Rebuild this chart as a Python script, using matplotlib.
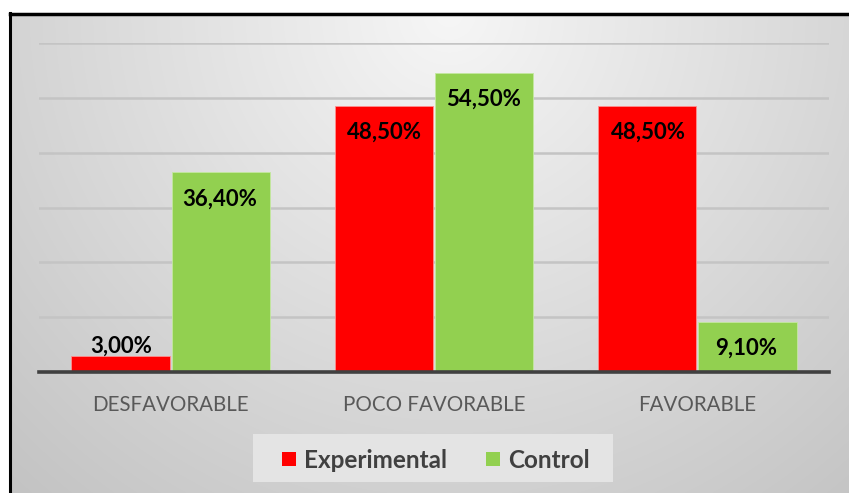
import numpy as np
import matplotlib.pyplot as plt
from matplotlib.patches import Rectangle
from matplotlib.lines import Line2D

categories = ['DESFAVORABLE', 'POCO FAVORABLE', 'FAVORABLE']
series = ['Experimental', 'Control']
experimental = [3.00, 48.50, 48.50]
control = [36.40, 54.50, 9.10]
colors = ['#FF0000', '#92D050']

W, H = 849, 493
fig = plt.figure(figsize=(W / 100, H / 100), dpi=100)
fig.patch.set_facecolor('white')

# gradient background inside the frame
bg = fig.add_axes([9 / W, 0, 1 - 9 / W, 1 - 13 / H], zorder=-10)
yy, xx = np.mgrid[0:480, 0:840]
d = np.sqrt((xx - 440) ** 2 + (yy * 1.0) ** 2)
shade = np.clip(0.965 - 0.17 * d / 550, 0, 1)
bg.imshow(np.dstack([shade] * 3), aspect='auto', extent=[0, 1, 0, 1], origin='upper')
bg.axis('off')

# frame (only left and top are visible in the crop)
fig.add_artist(Line2D([9.5 / W, 9.5 / W], [0, 1 - 13 / H], color='black', lw=2.2, transform=fig.transFigure))
fig.add_artist(Line2D([9.5 / W, 1], [1 - 13.5 / H, 1 - 13.5 / H], color='black', lw=2.5, transform=fig.transFigure))

ax = fig.add_axes([39 / W, 121 / H, 790 / W, 329 / H])
ax.patch.set_alpha(0)
x = np.arange(len(categories))
w = 0.373
ax.bar(x - w / 2 - 0.004, experimental, w, color=colors[0], edgecolor='#ff9090', lw=0.6, zorder=3)
ax.bar(x + w / 2 + 0.004, control, w, color=colors[1], edgecolor='#c4e8a0', lw=0.6, zorder=3)

ax.set_ylim(0, 60)
ax.set_xlim(-0.5, 2.5)
ax.set_yticks(np.arange(10, 61, 10))
ax.yaxis.grid(True, color='#c4c4c4', lw=1.8, zorder=0)
ax.tick_params(axis='y', left=False, labelleft=False)
ax.tick_params(axis='x', bottom=False, pad=13)
for s in ['top', 'right', 'left']:
    ax.spines[s].set_visible(False)
ax.spines['bottom'].set_color('#404040')
ax.spines['bottom'].set_linewidth(2.6)
ax.spines['bottom'].set_zorder(4)
ax.set_xticks(x)
ax.set_xticklabels(categories, fontsize=14.8, color='#595959', family='Lato')

lab = dict(ha='center', va='center', fontsize=16, fontweight='bold', family='Lato', color='black', zorder=5)
for i in range(len(categories)):
    for off, vals in ((-w / 2, experimental), (w / 2, control)):
        v = vals[i]
        txt = f'{v:.2f}%'.replace('.', ',')
        if v < 5:
            ax.annotate(txt, (x[i] + off, v), xytext=(0, 7), textcoords='offset points', **lab)
        else:
            ax.annotate(txt, (x[i] + off, v), xytext=(0, -19), textcoords='offset points', **lab)

# legend box
fig.add_artist(Rectangle((253 / W, 1 - 482 / H), 360 / W, 48 / H, transform=fig.transFigure,
                         facecolor='#e4e4e4', edgecolor='none'))
sq = [(282, 452), (486, 452)]
tx = [304, 508]
for (sx, sy), t, c, name in zip(sq, tx, colors, series):
    fig.add_artist(Rectangle((sx / W, 1 - (sy + 14) / H), 14 / W, 14 / H, transform=fig.transFigure,
                             facecolor=c, edgecolor='none'))
    fig.text(t / W, 1 - 460 / H, name, fontsize=17.5, fontweight='bold', family='Lato',
             color='#404040', ha='left', va='center')

fig.savefig('out.png', dpi=100)
